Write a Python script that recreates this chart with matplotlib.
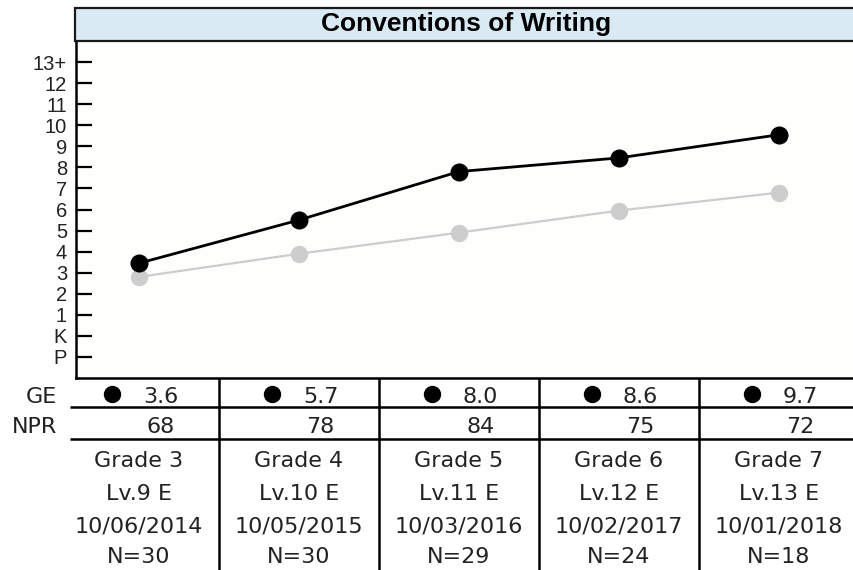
import matplotlib
matplotlib.use("Agg")
import matplotlib.pyplot as plt
from matplotlib.patches import Rectangle

# ---------------- data ----------------
title = "Conventions of Writing"
tick_values = [-1, 0, 1, 2, 3, 4, 5, 6, 7, 8, 9, 10, 11, 12, 13]
tick_labels = ["P", "K", "1", "2", "3", "4", "5", "6", "7", "8", "9", "10", "11", "12", "13+"]
student_ge = [3.45, 5.5, 7.8, 8.45, 9.55]
norm_ge = [2.8, 3.9, 4.9, 5.95, 6.8]
ge_labels = ["3.6", "5.7", "8.0", "8.6", "9.7"]
npr_labels = ["68", "78", "84", "75", "72"]
grades = ["Grade 3", "Grade 4", "Grade 5", "Grade 6", "Grade 7"]
levels = ["Lv.9 E", "Lv.10 E", "Lv.11 E", "Lv.12 E", "Lv.13 E"]
dates = ["10/06/2014", "10/05/2015", "10/03/2016", "10/02/2017", "10/01/2018"]
counts = ["N=30", "N=30", "N=29", "N=24", "N=18"]

# ---------------- layout ----------------
W, H = 854, 570
fig = plt.figure(figsize=(W / 100, H / 100), dpi=100)
fig.patch.set_facecolor("white")

FONT = "DejaVu Sans"
TICKFONT = "Liberation Sans"
x0px, colw = 139.0, 160.0          # pixel of first column centre, column width
xmin_tab = -x0px / colw
xmax_tab = (W - x0px) / colw

# main plot axes
ax_left, ax_right, ax_top, ax_bottom = 76, W, 41, 378
ax = fig.add_axes([ax_left / W, (H - ax_bottom) / H, (ax_right - ax_left) / W, (ax_bottom - ax_top) / H])
ax.set_facecolor("#fefefd")
ax.set_xlim((ax_left - x0px) / colw, (ax_right - x0px) / colw)
ax.set_ylim(-2, 14)
xs = list(range(len(student_ge)))
ax.plot(xs, norm_ge, color="#cdcdcd", lw=1.6, marker="o", ms=11.5,
        markerfacecolor="#cdcdcd", markeredgecolor="#cdcdcd", zorder=2, clip_on=False)
ax.plot(xs, student_ge, color="black", lw=2.0, marker="o", ms=12,
        markerfacecolor="black", markeredgecolor="black", zorder=3, clip_on=False)
ax.set_yticks(tick_values)
ax.set_yticklabels(tick_labels, fontsize=14.5, family=TICKFONT, color="#222222")
ax.tick_params(axis="y", direction="in", length=11.5, width=1.6, pad=6.5, color="black")
ax.set_xticks([])
for s in ("top", "right"):
    ax.spines[s].set_visible(False)
for s in ("left", "bottom"):
    ax.spines[s].set_linewidth(1.8)
    ax.spines[s].set_color("black")

# title box
fig.patches.append(Rectangle((75 / W, (H - 41) / H), 800 / W, 33 / H, transform=fig.transFigure,
                             facecolor="#d9eaf5", edgecolor="#1a1a1a", lw=1.6, zorder=5))
fig.text(466 / W, (H - 24.5) / H, title, ha="center", va="center", fontsize=19,
         fontweight="bold", family="Liberation Sans", color="black", zorder=6)

# table axes (x in column units, y in pixels from top)
tab_top = 378
tax = fig.add_axes([0, 0, 1, (H - tab_top) / H])
tax.set_xlim(xmin_tab, xmax_tab)
tax.set_ylim(H, tab_top)
tax.axis("off")

line_x0 = (70 - x0px) / colw
for yy in (407, 439):
    tax.plot([line_x0, xmax_tab], [yy, yy], color="black", lw=1.8, solid_capstyle="butt")
for i in range(len(grades) - 1):
    tax.plot([i + 0.5, i + 0.5], [tab_top, H], color="black", lw=1.8, solid_capstyle="butt")

lab_x = (57 - x0px) / colw
tfs = 16
tax.text(lab_x, 403, "GE", ha="right", va="baseline", fontsize=tfs, family=FONT, color="#222222")
tax.text(lab_x, 433, "NPR", ha="right", va="baseline", fontsize=tfs, family=FONT, color="#222222")

for i in range(len(grades)):
    tax.plot(i - 0.17, 394, "o", ms=11.5, color="black")
    tax.text(i + 0.135, 403, ge_labels[i], ha="center", va="baseline", fontsize=tfs, family=FONT, color="#222222")
    tax.text(i + 0.135, 433, npr_labels[i], ha="center", va="baseline", fontsize=tfs, family=FONT, color="#222222")
    tax.text(i, 467, grades[i], ha="center", va="baseline", fontsize=tfs, family=FONT, color="#222222")
    tax.text(i, 500, levels[i], ha="center", va="baseline", fontsize=tfs, family=FONT, color="#222222")
    tax.text(i, 533, dates[i], ha="center", va="baseline", fontsize=tfs, family=FONT, color="#222222")
    tax.text(i, 563, counts[i], ha="center", va="baseline", fontsize=tfs, family=FONT, color="#222222")

fig.savefig("out.png", dpi=100)
